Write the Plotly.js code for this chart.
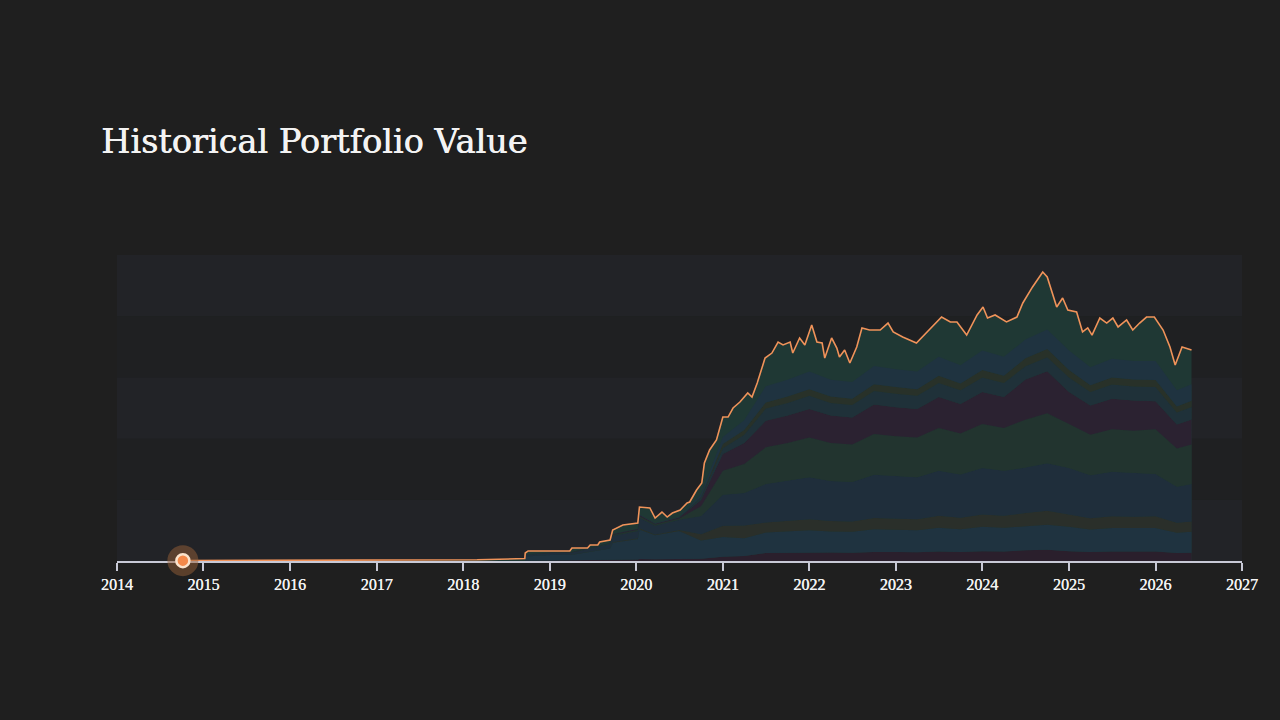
<!DOCTYPE html>
<html>
<head>
<meta charset="utf-8">
<script src="https://cdn.plot.ly/plotly-3.0.1.min.js"></script>
<style>
  html, body { margin: 0; padding: 0; background: #1f1f1f; }
  #chart { width: 1280px; height: 720px; }
</style>
</head>
<body>
<div id="chart"></div>
<script>
// Total portfolio value (thousands) over time
const totalDates = [
  '2014-10-06','2015-06-01','2016-06-01','2017-06-01','2018-03-01','2018-09-18','2018-09-20','2018-10-02',
  '2019-03-27','2019-04-05','2019-06-10','2019-06-21','2019-07-23','2019-07-31','2019-09-13','2019-09-24',
  '2019-11-06','2020-01-08','2020-01-15','2020-02-28','2020-03-21','2020-04-19','2020-05-11','2020-06-02',
  '2020-07-05','2020-08-03','2020-08-14','2020-09-12','2020-10-04','2020-10-15','2020-11-06','2020-12-05',
  '2021-01-01','2021-01-23','2021-02-13','2021-03-14','2021-04-16','2021-05-04','2021-05-26','2021-06-28',
  '2021-07-27','2021-08-22','2021-09-12','2021-10-12','2021-10-23','2021-11-21','2021-12-13','2022-01-11',
  '2022-02-02','2022-02-24','2022-03-07','2022-04-05','2022-04-27','2022-05-08','2022-05-30','2022-06-21',
  '2022-07-20','2022-08-11','2022-09-12','2022-10-27','2022-11-29','2022-12-21','2023-01-30','2023-03-29',
  '2023-04-23','2023-06-02','2023-07-13','2023-08-19','2023-09-16','2023-10-27','2023-12-10','2024-01-04',
  '2024-01-23','2024-02-24','2024-04-12','2024-05-26','2024-06-20','2024-07-31','2024-09-12','2024-10-01',
  '2024-11-10','2024-12-05','2024-12-27','2025-02-02','2025-02-27','2025-03-21','2025-04-08','2025-05-11',
  '2025-06-09','2025-07-05','2025-07-27','2025-09-01','2025-09-27','2025-10-26','2025-11-24','2025-12-27',
  '2026-02-02','2026-03-03','2026-03-25','2026-04-23','2026-05-11','2026-06-02'
];
const totalValues = [
  0.3, 0.4, 0.5, 0.7, 1.0, 2.0, 6.5, 8.2,
  8.2, 10.6, 10.6, 13.1, 13.1, 15.5, 17.2, 25.3,
  29.4, 31.0, 44.1, 43.3, 35.1, 40.0, 35.9, 39.2,
  41.7, 47.4, 48.2, 58.0, 63.7, 80.1, 90.7, 98.9,
  117.6, 117.6, 125.0, 129.9, 137.3, 134.0, 145.4, 165.8,
  169.9, 178.9, 176.5, 178.9, 169.9, 182.2, 176.5, 192.8,
  178.9, 178.1, 165.8, 182.2, 174.0, 166.7, 172.4, 161.8,
  174.8, 190.4, 188.7, 188.7, 194.4, 187.1, 183.0, 178.1,
  183.0, 190.4, 199.3, 195.3, 195.3, 184.6, 201.0, 207.5,
  198.5, 201.0, 195.3, 199.3, 210.8, 223.9, 236.1, 232.0,
  207.5, 214.9, 205.1, 203.4, 187.1, 190.4, 184.6, 198.5,
  194.4, 198.5, 191.2, 196.9, 188.7, 194.4, 199.3, 199.3,
  188.7, 174.8, 160.1, 174.8, 174.0, 172.4
];

// Holdings breakdown (thousands), bottom to top of the stack
const holdingDates = [
  '2018-09-20','2019-01-01','2019-04-01','2019-07-01','2019-09-13','2019-09-24','2020-01-08','2020-01-15',
  '2020-03-21','2020-07-01','2020-10-01','2021-01-01','2021-04-01','2021-07-01','2021-10-01','2022-01-01',
  '2022-04-01','2022-07-01','2022-10-01','2023-01-01','2023-04-01','2023-07-01','2023-10-01','2024-01-01',
  '2024-04-01','2024-07-01','2024-10-01','2025-01-01','2025-04-01','2025-07-01','2025-10-01','2026-01-01',
  '2026-04-01','2026-06-02'
];
const holdingA = [0.2,0.3,0.3,0.5,0.7,1.0,1.2,1.7,1.4,1.6,1.9,3.5,4.0,6.6,6.9,7.2,6.9,6.8,7.4,7.3,7.2,7.8,7.4,8.0,7.8,8.7,9.1,8.0,7.4,7.7,7.6,7.7,6.6,6.8];
const holdingB = [3.4,4.5,4.6,7.3,9.5,14.0,16.8,24.1,19.6,23.0,14.9,16.1,14.5,16.6,17.2,18.0,17.2,17.0,18.5,18.2,18.0,19.4,18.6,20.0,19.4,19.6,20.5,20.0,18.4,19.2,19.0,19.2,16.4,17.0];
const holdingC = [0.1,0.2,0.2,0.3,0.3,0.5,0.6,0.9,0.7,0.8,5.0,9.2,10.6,8.3,8.6,9.0,8.6,8.5,9.3,9.1,9.0,9.7,9.3,10.0,9.7,10.9,11.4,10.0,9.2,9.6,9.5,9.6,8.2,8.5];
const holdingD = [1.2,1.6,1.6,2.6,3.4,5.0,6.0,8.6,7.0,8.2,14.9,25.3,26.4,31.5,32.7,34.2,32.7,32.3,35.2,34.6,34.2,36.9,35.3,38.0,36.9,37.1,38.8,38.0,35.0,36.5,36.1,34.6,29.5,30.6];
const holdingE = [0.2,0.2,0.2,0.4,0.5,0.8,0.9,1.3,1.1,1.2,8.1,19.6,23.8,29.9,31.0,32.4,31.0,30.6,33.3,32.8,32.4,34.9,33.5,36.0,34.9,39.2,41.0,36.0,33.1,34.6,34.2,36.5,31.2,32.3];
const holdingF = [0.1,0.2,0.2,0.3,0.3,0.5,0.6,0.9,0.7,0.8,5.0,13.8,17.2,21.6,22.4,23.4,22.4,22.1,24.1,23.7,23.4,25.2,24.2,26.0,25.2,32.7,34.2,26.0,23.9,25.0,24.7,23.0,19.7,20.4];
const holdingG = [0,0,0,0,0,0,0,0,0,0,1.9,4.6,6.6,10.0,10.3,10.8,10.3,10.2,11.1,10.9,10.8,11.6,11.2,12.0,11.6,10.9,11.4,12.0,11.0,11.5,11.4,11.5,9.8,10.2];
const holdingH = [0,0,0,0,0,0,0,0,0,0,0.6,3.5,4.0,5.0,5.2,5.4,5.2,5.1,5.6,5.5,5.4,5.8,5.6,6.0,5.8,6.5,6.8,6.0,5.5,5.8,5.7,5.8,4.9,5.1];
const holdingI = [0.1,0.1,0.1,0.1,0.2,0.3,0.3,0.4,0.4,0.4,2.5,5.8,7.9,13.3,13.8,14.4,13.8,13.6,14.8,14.6,14.4,15.5,14.9,16.0,15.5,15.3,16.0,16.0,14.7,15.4,15.2,15.4,13.1,13.6];

const holdings = [holdingA, holdingB, holdingC, holdingD, holdingE, holdingF, holdingG, holdingH, holdingI];
const holdingColors = ['#2a1f2c','#1f3340','#2a2f2a','#1f2e3b','#22342f','#2b2231','#1f3139','#283129','#1f3340'];

const yearTicks = ['2014','2015','2016','2017','2018','2019','2020','2021','2022','2023','2024','2025','2026','2027'];

// Alternating horizontal bands behind the plot
const bandEdges = [0, 50, 100, 150, 200, 250];

const traces = [];

// Whole-portfolio area underneath the holdings
traces.push({
  x: totalDates, y: totalValues, type: 'scatter', mode: 'none',
  fill: 'tozeroy', fillcolor: '#1f3834', hoverinfo: 'skip', showlegend: false
});

holdings.forEach((vals, i) => {
  traces.push({
    x: holdingDates, y: vals, type: 'scatter', mode: 'lines',
    stackgroup: 'holdings', line: { width: 0 }, fillcolor: holdingColors[i],
    hoverinfo: 'skip', showlegend: false
  });
});

// Total value line
traces.push({
  x: totalDates, y: totalValues, type: 'scatter', mode: 'lines',
  line: { color: '#f0935a', width: 1.6 }, cliponaxis: false,
  hoverinfo: 'skip', showlegend: false
});

// Start marker with halo
traces.push({
  x: [totalDates[0]], y: [totalValues[0]], type: 'scatter', mode: 'markers',
  marker: { size: 31, color: 'rgba(150,95,55,0.5)' }, cliponaxis: false,
  hoverinfo: 'skip', showlegend: false
});
traces.push({
  x: [totalDates[0]], y: [totalValues[0]], type: 'scatter', mode: 'markers',
  marker: { size: 13, color: '#f4894a', line: { color: '#fbe3cc', width: 2.5 } }, cliponaxis: false,
  hoverinfo: 'skip', showlegend: false
});

const shapes = [];
for (let i = 0; i < bandEdges.length - 1; i++) {
  shapes.push({
    type: 'rect', xref: 'paper', yref: 'y', x0: 0, x1: 1,
    y0: bandEdges[i], y1: bandEdges[i + 1], layer: 'below', line: { width: 0 },
    fillcolor: i % 2 === 0 ? '#222327' : '#1f2022'
  });
}

const layout = {
  width: 1280, height: 720,
  paper_bgcolor: '#1f1f1f', plot_bgcolor: '#1f2022',
  margin: { l: 117, r: 38, t: 255, b: 159 },
  title: {
    text: 'Historical Portfolio Value',
    x: 101 / 1280, xref: 'container', xanchor: 'left',
    y: 1 - 141 / 720, yref: 'container', yanchor: 'middle',
    font: { family: 'DejaVu Serif, serif', size: 33.5, color: '#f3f3f3',
            shadow: '0.6px 0 0 #f3f3f3' }
  },
  xaxis: {
    type: 'date', range: ['2014-01-01', '2027-01-01'],
    tickvals: yearTicks.map(y => y + '-01-01'), ticktext: yearTicks,
    showgrid: false, zeroline: false,
    showline: true, linecolor: '#c8c9d6', linewidth: 2,
    ticks: 'outside', ticklen: 8, tickwidth: 2, tickcolor: '#c8c9d6',
    tickfont: { family: 'Liberation Serif, serif', size: 16, color: '#f3f3f3',
                shadow: '0.3px 0 0 #f3f3f3' },
    layer: 'below traces', fixedrange: true
  },
  yaxis: {
    range: [0, 250], visible: false, showgrid: false, zeroline: false, fixedrange: true
  },
  shapes: shapes,
  showlegend: false
};

Plotly.newPlot('chart', traces, layout, { displayModeBar: false, staticPlot: true });
</script>
</body>
</html>
